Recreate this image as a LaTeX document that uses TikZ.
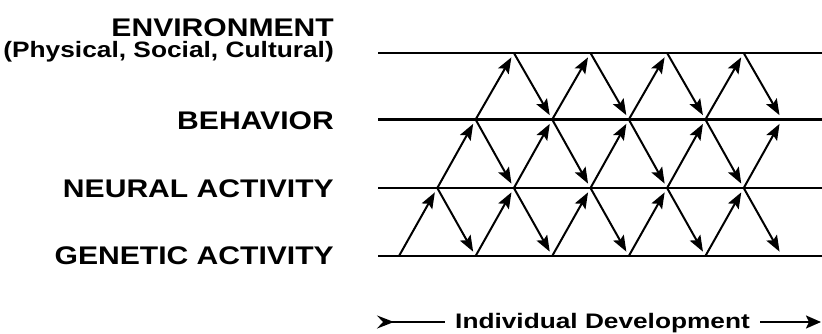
\documentclass[tikz,border=0pt]{standalone}
\usepackage{fontspec}
\newfontfamily\labfont[FakeStretch=1.18]{Liberation Sans}
\newfontfamily\devfont[FakeStretch=1.25]{Liberation Sans}
\usetikzlibrary{arrows.meta}
\begin{document}
\begin{tikzpicture}[x=1pt,y=-1pt,
  lab/.style={anchor=base east, inner sep=0pt, font={\labfont\bfseries\fontsize{25.5}{28}\selectfont}},
  sublab/.style={anchor=base east, inner sep=0pt, font={\labfont\bfseries\fontsize{22.3}{25}\selectfont}},
  devlab/.style={anchor=base west, inner sep=0pt, font={\devfont\bfseries\fontsize{21}{24}\selectfont}},
  levelline/.style={line width=2.4pt},
  link/.style={line width=2pt, -{Stealth[length=16pt,width=12pt,inset=3pt]}, shorten >=5pt},
  timeline/.style={line width=2pt},
]
\useasboundingbox (0,0) rectangle (822,334);

% labels
\node[lab] (env) at (334,37) {ENVIRONMENT};
\node[sublab] (envsub) at (334,58) {(Physical, Social, Cultural)};
\node[lab] (beh) at (334,130) {BEHAVIOR};
\node[lab] (neu) at (334,197) {NEURAL ACTIVITY};
\node[lab] (gen) at (334,264) {GENETIC ACTIVITY};

% level lines and lattice vertices
\foreach \L/\y in {0/256,1/188,2/119.5,3/53} {
  \coordinate (s\L) at (378,\y);
  \coordinate (e\L) at (822,\y);
  \draw[levelline] (s\L) -- (e\L);
  \foreach \n in {0,...,10} {
    \coordinate (v\L-\n) at ({399+38.3*\n},\y);
  }
}

% upward arrows
\foreach \n [evaluate=\n as \m using int(\n+1)] in {0,2,4,6,8}
  \draw[link] (v0-\n) -- (v1-\m);
\foreach \n [evaluate=\n as \m using int(\n+1)] in {1,3,5,7,9}
  \draw[link] (v1-\n) -- (v2-\m);
\foreach \n [evaluate=\n as \m using int(\n+1)] in {2,4,6,8}
  \draw[link] (v2-\n) -- (v3-\m);

% downward arrows
\foreach \n [evaluate=\n as \m using int(\n+1)] in {1,3,5,7,9}
  \draw[link] (v1-\n) -- (v0-\m);
\foreach \n [evaluate=\n as \m using int(\n+1)] in {2,4,6,8}
  \draw[link] (v2-\n) -- (v1-\m);
\foreach \n [evaluate=\n as \m using int(\n+1)] in {3,5,7,9}
  \draw[link] (v3-\n) -- (v2-\m);

% individual development axis
\node[devlab] (dev) at (455,328) {Individual Development};
\coordinate (t0) at (377,322);
\coordinate (t1) at (445,322);
\coordinate (t2) at (760,322);
\coordinate (t3) at (821,322);
\draw[timeline, {Stealth[reversed,length=17pt,width=13pt,inset=6pt]}-] (t0) -- (t1);
\draw[timeline, -{Stealth[length=15pt,width=13pt,inset=3pt]}] (t2) -- (t3);
\end{tikzpicture}
\end{document}
